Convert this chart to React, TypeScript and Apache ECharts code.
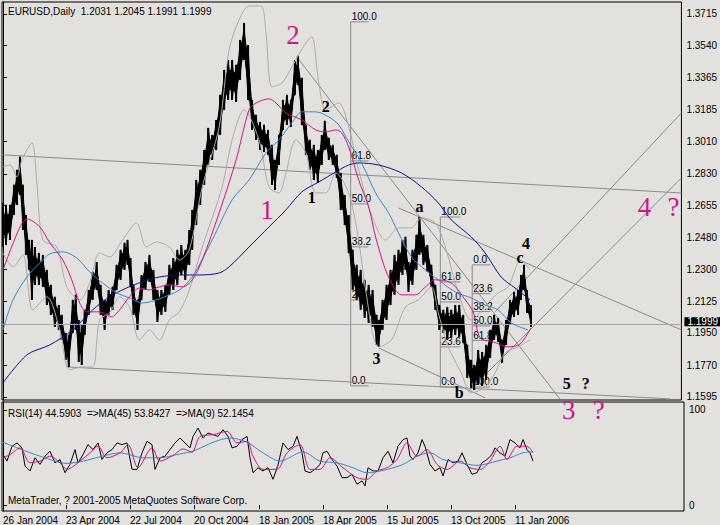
import React, { useEffect, useRef } from 'react';
import * as echarts from 'echarts';

const symbolTitle = 'EURUSD,Daily  1.2031 1.2045 1.1991 1.1999';
const rsiTitle = 'RSI(14) 44.5903  =>MA(45) 53.8427  =>MA(9) 52.1454';
const copyright = 'MetaTrader, ? 2001-2005 MetaQuotes Software Corp.';

const dateTickIdx = [0, 63, 127, 191, 256, 320, 384, 448, 512];
const dateLabels = ['26 Jan 2004', '23 Apr 2004', '22 Jul 2004', '20 Oct 2004', '18 Jan 2005', '18 Apr 2005', '15 Jul 2005', '13 Oct 2005', '11 Jan 2006'];
const priceTicks = [1.1595, 1.177, 1.195, 1.2125, 1.23, 1.248, 1.2655, 1.283, 1.301, 1.3185, 1.3365, 1.354, 1.3715];
const rsiTicks = [0, 100];
const lastPrice = 1.1999;

// [bar index, high, low]
const priceBars = [
  [0, 1.2669, 1.2425], [3, 1.2658, 1.2436], [7, 1.2658, 1.2464], [11, 1.2769, 1.2602], [14, 1.2852, 1.2658],
  [17, 1.2924, 1.2713], [20, 1.2769, 1.2519], [23, 1.2602, 1.2381], [26, 1.2464, 1.2298], [29, 1.2464, 1.2132],
  [32, 1.2425, 1.2215], [36, 1.2392, 1.2215], [40, 1.2381, 1.2204], [44, 1.2298, 1.2104], [48, 1.2215, 1.2049],
  [52, 1.2149, 1.1983], [56, 1.2104, 1.1966], [59, 1.2049, 1.1911], [63, 1.1949, 1.18], [66, 1.1938, 1.1761],
  [70, 1.2132, 1.1949], [73, 1.216, 1.1966], [76, 1.2021, 1.1789], [79, 1.1994, 1.1772], [82, 1.2077, 1.1938],
  [86, 1.2187, 1.2049], [90, 1.2287, 1.2132], [94, 1.2342, 1.2187], [98, 1.2215, 1.2049], [102, 1.2132, 1.1966],
  [106, 1.2187, 1.2049], [110, 1.2204, 1.2077], [114, 1.2326, 1.2187], [118, 1.2409, 1.2243], [122, 1.2448, 1.2298],
  [125, 1.2464, 1.2326], [128, 1.2364, 1.2204], [131, 1.2215, 1.2049], [135, 1.2132, 1.1966], [139, 1.227, 1.2132],
  [143, 1.2342, 1.2187], [147, 1.2381, 1.2232], [151, 1.2298, 1.2132], [155, 1.2187, 1.201], [159, 1.2187, 1.2049],
  [163, 1.2215, 1.2066], [167, 1.2326, 1.216], [171, 1.2364, 1.2187], [175, 1.2409, 1.2215], [179, 1.2436, 1.227],
  [183, 1.2409, 1.2243], [187, 1.2519, 1.2326], [190, 1.263, 1.2409], [194, 1.2796, 1.2547], [198, 1.2852, 1.2658],
  [202, 1.2962, 1.2769], [206, 1.3084, 1.2879], [210, 1.3045, 1.2907], [214, 1.3128, 1.2962], [218, 1.3267, 1.3045],
  [222, 1.3405, 1.3184], [226, 1.346, 1.3239], [230, 1.346, 1.3239], [234, 1.3433, 1.3228], [238, 1.3571, 1.335],
  [242, 1.3665, 1.346], [246, 1.3543, 1.3239], [250, 1.3239, 1.3073], [254, 1.3156, 1.3018], [258, 1.3117, 1.2962],
  [262, 1.3101, 1.2951], [266, 1.3073, 1.2935], [270, 1.299, 1.2769], [273, 1.2907, 1.2741], [277, 1.3045, 1.2879],
  [281, 1.3239, 1.3073], [285, 1.3267, 1.3101], [289, 1.3239, 1.309], [293, 1.346, 1.3267], [296, 1.3483, 1.3322],
  [300, 1.3361, 1.3101], [304, 1.3101, 1.2935], [308, 1.3018, 1.2852], [312, 1.299, 1.2796], [316, 1.2962, 1.278],
  [320, 1.3045, 1.2879], [323, 1.3123, 1.2962], [327, 1.3029, 1.2907], [331, 1.299, 1.2879], [335, 1.2935, 1.2807],
  [339, 1.2835, 1.263], [343, 1.2713, 1.2547], [347, 1.2602, 1.2392], [351, 1.2409, 1.2187], [355, 1.2326, 1.2132],
  [359, 1.2298, 1.2077], [363, 1.2243, 1.2032], [367, 1.2215, 1.2005], [371, 1.2187, 1.1983], [375, 1.2049, 1.1883],
  [377, 1.2021, 1.1872], [381, 1.2132, 1.1966], [385, 1.2215, 1.2021], [389, 1.2298, 1.2104], [393, 1.2381, 1.216],
  [397, 1.2409, 1.2215], [401, 1.2464, 1.227], [404, 1.2481, 1.2298], [407, 1.2342, 1.2176], [411, 1.2409, 1.2215],
  [415, 1.2492, 1.2298], [418, 1.2591, 1.2381], [422, 1.2492, 1.2326], [426, 1.2436, 1.2287], [430, 1.2326, 1.2204],
  [434, 1.2215, 1.2077], [438, 1.2104, 1.1966], [442, 1.2077, 1.1949], [446, 1.2093, 1.1911], [450, 1.2077, 1.1922],
  [454, 1.2104, 1.1938], [458, 1.2104, 1.1927], [462, 1.2049, 1.1894], [466, 1.1883, 1.17], [470, 1.18, 1.1645],
  [473, 1.1772, 1.1634], [477, 1.1855, 1.1662], [481, 1.1844, 1.1656], [485, 1.1883, 1.1689], [489, 1.1966, 1.1811],
  [493, 1.2049, 1.1911], [497, 1.2032, 1.19], [501, 1.1911, 1.1783], [505, 1.2021, 1.1883], [509, 1.2132, 1.1994],
  [513, 1.2176, 1.2038], [517, 1.2187, 1.2049], [520, 1.227, 1.2132], [523, 1.2326, 1.2187], [526, 1.2187, 1.206],
  [530, 1.2104, 1.1983],
];

const maMagenta = [
  [0, 1.2298], [17, 1.2536], [24, 1.258], [37, 1.2536], [47, 1.2448], [60, 1.2353], [69, 1.2243], [77, 1.2115],
  [84, 1.2066], [97, 1.2066], [109, 1.2038], [117, 1.2077], [127, 1.2149], [137, 1.2198], [147, 1.2187], [157, 1.2204],
  [167, 1.2215], [180, 1.2204], [190, 1.2243], [200, 1.2353], [217, 1.2614], [234, 1.2907], [247, 1.3184], [254, 1.3222],
  [267, 1.3245], [274, 1.3222], [284, 1.3167], [300, 1.3128], [314, 1.3073], [324, 1.3062], [334, 1.3073], [340, 1.3056],
  [347, 1.2979], [357, 1.2796], [367, 1.2647], [374, 1.2481], [384, 1.2298], [394, 1.2187], [400, 1.216], [414, 1.216],
  [424, 1.2204], [434, 1.2243], [450, 1.2226], [464, 1.2132], [472, 1.2066], [479, 1.1922], [492, 1.19], [507, 1.1872],
  [519, 1.1888], [530, 1.1977],
];
const maLightBlue = [
  [0, 1.1966], [10, 1.2132], [24, 1.2259], [37, 1.2337], [47, 1.2387], [60, 1.2398], [74, 1.2364], [87, 1.2287],
  [100, 1.2226], [114, 1.2171], [127, 1.2143], [140, 1.2115], [154, 1.2132], [167, 1.216], [177, 1.2187], [190, 1.2259],
  [210, 1.2464], [230, 1.2686], [247, 1.2796], [264, 1.2946], [277, 1.3018], [290, 1.3112], [300, 1.3173], [314, 1.3173],
  [327, 1.3145], [337, 1.3101], [347, 1.3007], [360, 1.289], [374, 1.2724], [387, 1.2614], [397, 1.2503], [410, 1.237],
  [424, 1.2298], [437, 1.2243], [454, 1.2176], [470, 1.2143], [484, 1.2104], [497, 1.2077], [510, 1.2005], [527, 1.1966],
];
const maDarkBlue = [
  [0, 1.1673], [24, 1.1828], [47, 1.1883], [70, 1.1966], [90, 1.2077], [107, 1.2149], [124, 1.2198], [140, 1.2232],
  [157, 1.2259], [177, 1.227], [197, 1.227], [217, 1.2281], [227, 1.2315], [247, 1.2425], [267, 1.2536], [284, 1.263],
  [300, 1.273], [317, 1.2785], [334, 1.284], [347, 1.2879], [357, 1.289], [377, 1.2879], [400, 1.2835], [420, 1.2758],
  [437, 1.2669], [450, 1.2575], [470, 1.2481], [484, 1.2392], [500, 1.2259], [514, 1.2198], [529, 1.2132],
];
const bandUpper = [
  [0, 1.2868], [7, 1.2879], [14, 1.2813], [19, 1.2907], [29, 1.3001], [34, 1.278], [40, 1.2464], [54, 1.2425],
  [64, 1.2204], [77, 1.2132], [87, 1.2226], [97, 1.2392], [107, 1.237], [120, 1.2464], [134, 1.2558], [144, 1.2425],
  [154, 1.2453], [167, 1.2425], [177, 1.2353], [187, 1.2409], [200, 1.2757], [217, 1.309], [227, 1.3516], [237, 1.3682],
  [247, 1.3759], [259, 1.3759], [264, 1.361], [270, 1.3311], [280, 1.3333], [290, 1.3422], [304, 1.3555], [310, 1.3588],
  [317, 1.3333], [324, 1.3184], [337, 1.3222], [347, 1.309], [357, 1.2852], [370, 1.2602], [384, 1.2464], [397, 1.2531],
  [410, 1.2531], [420, 1.2586], [434, 1.2558], [444, 1.2425], [457, 1.2171], [470, 1.2021], [487, 1.2115], [497, 1.2171],
  [507, 1.2204], [520, 1.2353], [529, 1.2298],
];
const bandLower = [
  [0, 1.2392], [10, 1.2315], [20, 1.2381], [30, 1.2077], [44, 1.2149], [57, 1.1966], [67, 1.1745], [80, 1.1761],
  [90, 1.1761], [97, 1.2021], [107, 1.206], [117, 1.2149], [127, 1.2093], [137, 1.1911], [147, 1.1966], [157, 1.1911],
  [167, 1.2021], [177, 1.2066], [187, 1.2187], [200, 1.2425], [220, 1.2757], [230, 1.3018], [242, 1.3184], [257, 1.3018],
  [267, 1.2757], [277, 1.2724], [284, 1.2835], [294, 1.3018], [304, 1.2946], [314, 1.2724], [324, 1.2724], [334, 1.2835],
  [347, 1.2724], [357, 1.2464], [364, 1.2187], [377, 1.1872], [390, 1.1911], [404, 1.2093], [417, 1.2132], [430, 1.2204],
  [437, 1.206], [447, 1.1872], [460, 1.1728], [470, 1.1617], [484, 1.165], [494, 1.1728], [504, 1.1839], [517, 1.1872],
  [529, 1.1911],
];

const trendLines = [
  [[0, 1.2935], [681, 1.2724]],
  [[64, 1.1761], [670, 1.1584]],
  [[295, 1.3477], [559, 1.1584]],
  [[397, 1.2641], [681, 1.1966]],
  [[377, 1.1866], [484, 1.159]],
  [[494, 1.2066], [681, 1.3167]],
  [[467, 1.1623], [681, 1.2807]],
];

// fibonacci retracement tools: left/right bar index, price at 100% and at 0%
const fibTools = [
  { x1: 349, x2: 367, p100: 1.3671, p0: 1.1656 },
  { x1: 439, x2: 459, p100: 1.2591, p0: 1.165 },
  { x1: 471, x2: 489, p100: 1.165, p0: 1.2326 },
];
const fibLevels = [0, 23.6, 38.2, 50, 61.8, 100];

const waveLabelsBlack = [
  { t: '2', i: 324, p: 1.32 }, { t: '1', i: 310, p: 1.2697 }, { t: '3', i: 375, p: 1.1805 },
  { t: 'a', i: 418, p: 1.2647 }, { t: 'b', i: 458, p: 1.1617 }, { t: 'c', i: 519, p: 1.2365 },
  { t: '4', i: 525, p: 1.2445 }, { t: '5', i: 566, p: 1.1667 }, { t: '?', i: 585, p: 1.1667 },
];
const waveLabelsMagenta = [
  { t: '2', i: 291, p: 1.3599 }, { t: '1', i: 265, p: 1.263 }, { t: '3', i: 568, p: 1.1523 },
  { t: '?', i: 598, p: 1.1523 }, { t: '4', i: 644, p: 1.2647 }, { t: '?', i: 673, p: 1.2647 },
];

const rsiLine = [
  [0, 53.1], [4, 46.2], [9, 61.8], [14, 65.3], [19, 60.1], [22, 41.0], [27, 35.8], [32, 49.7], [37, 42.7], [42, 51.4],
  [47, 56.6], [52, 44.4], [57, 47.9], [62, 34.0], [67, 42.7], [72, 58.3], [75, 44.4], [80, 53.1], [85, 63.5], [90, 58.3],
  [95, 65.3], [99, 47.9], [104, 54.9], [109, 58.3], [114, 65.3], [119, 63.5], [124, 65.3], [129, 37.5], [134, 37.5],
  [139, 54.9], [144, 67.0], [149, 63.5], [152, 37.5], [157, 49.7], [162, 51.4], [167, 58.3], [172, 65.3], [177, 70.5],
  [182, 65.3], [187, 60.1], [190, 72.2], [195, 80.9], [200, 70.5], [205, 75.7], [210, 74.0], [215, 72.2], [220, 79.2],
  [225, 72.2], [229, 60.1], [234, 61.8], [239, 68.8], [244, 72.2], [247, 49.7], [250, 34.0], [255, 39.2], [260, 35.8],
  [265, 39.2], [270, 27.1], [275, 42.0], [280, 65.3], [285, 58.3], [290, 61.8], [294, 72.2], [299, 54.9], [302, 35.8],
  [307, 34.0], [312, 37.5], [317, 42.7], [320, 54.9], [324, 56.6], [329, 47.9], [334, 41.0], [339, 28.8], [344, 28.8],
  [349, 32.3], [354, 21.9], [359, 25.4], [362, 20.1], [365, 39.2], [370, 35.8], [375, 35.8], [380, 49.7], [385, 56.6],
  [390, 44.4], [395, 61.8], [400, 68.8], [404, 70.5], [407, 51.4], [410, 47.9], [415, 54.9], [419, 68.8], [422, 61.8],
  [427, 42.7], [432, 35.8], [437, 39.2], [440, 30.6], [445, 47.9], [450, 44.4], [455, 46.2], [459, 54.9], [464, 42.7],
  [469, 32.3], [474, 34.0], [479, 44.4], [484, 47.9], [489, 53.1], [492, 60.1], [497, 54.9], [502, 51.4], [507, 68.8],
  [512, 65.3], [517, 60.1], [520, 68.8], [524, 58.3], [527, 54.9], [530, 46.2],
];
const rsiMa9 = [
  [0, 49.7], [7, 53.1], [17, 60.1], [27, 44.4], [37, 46.2], [47, 51.4], [57, 44.4], [64, 37.5], [77, 46.2], [87, 54.9],
  [95, 61.8], [104, 49.7], [117, 54.9], [125, 63.5], [135, 39.2], [149, 60.1], [157, 46.2], [170, 52.1], [180, 59.0],
  [189, 55.6], [197, 72.2], [210, 74.0], [224, 77.4], [234, 65.3], [244, 67.0], [250, 51.4], [260, 37.5], [274, 37.5],
  [284, 54.9], [297, 63.5], [307, 37.5], [317, 37.5], [327, 49.7], [340, 39.2], [354, 28.8], [364, 27.1], [374, 35.8],
  [384, 39.2], [394, 47.9], [404, 65.3], [414, 51.4], [424, 58.3], [434, 42.7], [444, 37.5], [457, 46.2], [467, 39.2],
  [477, 37.5], [487, 46.2], [497, 61.8], [504, 47.9], [514, 61.8], [524, 61.8], [530, 54.9],
];
const rsiMa45 = [
  [0, 66.0], [17, 59.0], [37, 51.4], [64, 43.8], [80, 46.2], [97, 50.7], [117, 54.9], [140, 49.7], [157, 49.7],
  [177, 53.8], [190, 56.6], [210, 66.0], [227, 70.5], [244, 66.0], [260, 54.9], [277, 46.2], [300, 55.9], [317, 46.2],
  [334, 44.4], [350, 39.2], [364, 34.0], [380, 36.4], [400, 42.7], [414, 51.4], [427, 54.9], [440, 47.9], [457, 44.4],
  [474, 41.7], [494, 46.2], [507, 49.7], [520, 54.9], [530, 55.9],
];

const BG = '#e2e1dd';
const SANS = '"Liberation Sans", Arial, sans-serif';
const SERIF = '"Liberation Serif", "Times New Roman", serif';
const MAGENTA = '#cc1686';

export default function App() {
  const ref = useRef<HTMLDivElement>(null);

  useEffect(() => {
    document.body.style.margin = '0';
    document.body.style.background = BG;
    if (!ref.current) return;
    const chart = echarts.init(ref.current, undefined, { renderer: 'svg' });

    const fibItems: { x1: number; x2: number; p: number; text: string }[] = [];
    fibTools.forEach((f) => {
      fibLevels.forEach((lv) => {
        fibItems.push({ x1: f.x1, x2: f.x2, p: f.p0 + ((f.p100 - f.p0) * lv) / 100, text: lv.toFixed(1) });
      });
    });
    const fibVerticals = fibTools.map((f) => [[f.x1, f.p100], [f.x1, f.p0]]);

    const lineSeries = (data: number[][], color: string, z: number, smooth: number | boolean, xi = 0) => ({
      type: 'line',
      xAxisIndex: xi,
      yAxisIndex: xi,
      data,
      showSymbol: false,
      symbol: 'none',
      smooth,
      silent: true,
      z,
      lineStyle: { color, width: 1 },
    });

    const textSeries = (items: { t: string; i: number; p: number }[], color: string, size: number, weight: string) => ({
      type: 'custom',
      xAxisIndex: 0,
      yAxisIndex: 0,
      clip: false,
      silent: true,
      z: 10,
      data: items.map((w) => [w.i, w.p]),
      renderItem: (params: any, api: any) => {
        const w = items[params.dataIndex];
        const pt = api.coord([w.i, w.p]);
        return {
          type: 'text',
          x: pt[0],
          y: pt[1],
          style: {
            text: w.t,
            fill: color,
            fontSize: size,
            fontWeight: weight,
            fontFamily: SERIF,
            align: 'center',
            verticalAlign: 'middle',
          },
        };
      },
    });

    const option: any = {
      animation: false,
      backgroundColor: BG,
      grid: [
        { left: 2, top: 2, width: 682, height: 398, show: true, borderColor: '#000', borderWidth: 1, backgroundColor: 'transparent' },
        { left: 2, top: 402, width: 682, height: 110, show: true, borderColor: '#000', borderWidth: 1, backgroundColor: 'transparent' },
      ],
      xAxis: [
        { type: 'value', gridIndex: 0, min: -1, max: 681, show: false },
        {
          type: 'value',
          gridIndex: 1,
          min: -1,
          max: 681,
          axisLine: { show: false },
          splitLine: { show: false },
          axisTick: { show: true, customValues: dateTickIdx, length: 4, lineStyle: { color: '#000' } },
          axisLabel: {
            customValues: dateTickIdx,
            formatter: (v: number) => dateLabels[dateTickIdx.indexOf(v)] ?? '',
            align: 'left',
            margin: 4,
            color: '#000',
            fontSize: 10,
            fontFamily: SANS,
          },
        },
      ],
      yAxis: [
        {
          type: 'value',
          gridIndex: 0,
          position: 'right',
          min: 1.1578,
          max: 1.3781,
          axisLine: { show: true, lineStyle: { color: '#000' } },
          splitLine: { show: false },
          axisTick: { show: true, customValues: priceTicks, length: 4, lineStyle: { color: '#000' } },
          axisLabel: {
            customValues: priceTicks,
            formatter: (v: number) => v.toFixed(4),
            margin: 5,
            color: '#000',
            fontSize: 10,
            lineHeight: 10,
            fontFamily: SANS,
          },
        },
        {
          type: 'value',
          gridIndex: 1,
          position: 'right',
          min: -6.25,
          max: 108.33,
          axisLine: { show: true, lineStyle: { color: '#000' } },
          splitLine: { show: false },
          axisTick: { show: true, customValues: rsiTicks, length: 4, lineStyle: { color: '#000' } },
          axisLabel: {
            customValues: rsiTicks,
            formatter: (v: number) => String(v),
            margin: 5,
            color: '#000',
            fontSize: 10,
            fontFamily: SANS,
          },
        },
      ],
      graphic: [
        { type: 'text', x: 8, y: 11, z: 100, style: { text: symbolTitle, fill: '#000', fontSize: 10, fontFamily: SANS, verticalAlign: 'middle' } },
        { type: 'text', x: 8, y: 413, z: 100, style: { text: rsiTitle, fill: '#000', fontSize: 10, fontFamily: SANS, verticalAlign: 'middle' } },
        { type: 'text', x: 8, y: 500, z: 100, style: { text: copyright, fill: '#000', fontSize: 10, fontFamily: SANS, verticalAlign: 'middle' } },
      ],
      series: [
        // trend lines
        ...trendLines.map((l) => lineSeries(l, '#8a8a8a', 1, false)),
        // fib verticals
        ...fibVerticals.map((l) => lineSeries(l, '#8a8a8a', 1, false)),
        {
          type: 'custom',
          xAxisIndex: 0,
          yAxisIndex: 0,
          silent: true,
          clip: false,
          z: 1,
          data: fibItems.map((f) => [f.x1, f.p]),
          renderItem: (params: any, api: any) => {
            const f = fibItems[params.dataIndex];
            const a = api.coord([f.x1, f.p]);
            const b = api.coord([f.x2, f.p]);
            return {
              type: 'group',
              children: [
                { type: 'line', shape: { x1: a[0], y1: a[1], x2: b[0], y2: b[1] }, style: { stroke: '#8a8a8a', lineWidth: 1 } },
                {
                  type: 'text',
                  x: a[0] + 1,
                  y: a[1],
                  style: { text: f.text, fill: '#000', fontSize: 10, fontFamily: SANS, align: 'left', verticalAlign: 'bottom' },
                },
              ],
            };
          },
        },
        // price: each sample is a daily-range spike, joined to the next one
        {
          type: 'custom',
          xAxisIndex: 0,
          yAxisIndex: 0,
          silent: true,
          z: 3,
          data: priceBars,
          encode: { x: 0, y: [1, 2] },
          renderItem: (params: any, api: any) => {
            const i = params.dataIndex;
            const c = priceBars[i];
            const hi = api.coord([c[0], c[1]]);
            const lo = api.coord([c[0], c[2]]);
            const children: any[] = [
              { type: 'line', shape: { x1: hi[0], y1: hi[1], x2: lo[0], y2: lo[1] }, style: { stroke: '#000', lineWidth: 2 } },
            ];
            if (i < priceBars.length - 1) {
              const n = priceBars[i + 1];
              const nhi = api.coord([n[0], n[1]]);
              const nlo = api.coord([n[0], n[2]]);
              const m1 = (hi[1] + lo[1]) / 2;
              const m2 = (nhi[1] + nlo[1]) / 2;
              const h1 = (hi[1] - lo[1]) * 0.24;
              const h2 = (nhi[1] - nlo[1]) * 0.24;
              children.push({
                type: 'polygon',
                shape: { points: [[hi[0], m1 + h1], [nhi[0], m2 + h2], [nhi[0], m2 - h2], [hi[0], m1 - h1]] },
                style: { fill: '#000', stroke: '#000', lineWidth: 1 },
              });
              children.push({ type: 'line', shape: { x1: hi[0], y1: hi[1], x2: nlo[0], y2: nlo[1] }, style: { stroke: '#000', lineWidth: 1 } });
              children.push({ type: 'line', shape: { x1: lo[0], y1: lo[1], x2: nhi[0], y2: nhi[1] }, style: { stroke: '#000', lineWidth: 1 } });
            }
            return { type: 'group', children };
          },
        },
        lineSeries(bandUpper, '#ababab', 4, 0.3),
        lineSeries(bandLower, '#ababab', 4, 0.3),
        {
          ...lineSeries(maDarkBlue, '#10108a', 5, 0.3),
          markLine: {
            silent: true,
            symbol: 'none',
            data: [{ yAxis: lastPrice }],
            lineStyle: { color: '#a5a5a5', type: 'solid', width: 1 },
            label: {
              position: 'end',
              formatter: lastPrice.toFixed(4),
              backgroundColor: '#000',
              color: '#fff',
              padding: [0, 3, 0, 3],
              lineHeight: 9,
              fontSize: 10,
              fontFamily: SANS,
              distance: 3,
              offset: [0, -2],
            },
          },
        },
        lineSeries(maLightBlue, '#3a88c8', 5, 0.3),
        lineSeries(maMagenta, MAGENTA, 5, 0.3),
        textSeries(waveLabelsBlack, '#000', 16, 'bold'),
        textSeries(waveLabelsMagenta, MAGENTA, 27, 'normal'),
        // RSI pane
        lineSeries(rsiLine, '#000', 3, false, 1),
        lineSeries(rsiMa45, '#3a88c8', 4, 0.3, 1),
        lineSeries(rsiMa9, MAGENTA, 5, 0.3, 1),
      ],
    };

    chart.setOption(option);
    return () => chart.dispose();
  }, []);

  return <div ref={ref} style={{ width: 720, height: 525, background: BG }} />;
}
